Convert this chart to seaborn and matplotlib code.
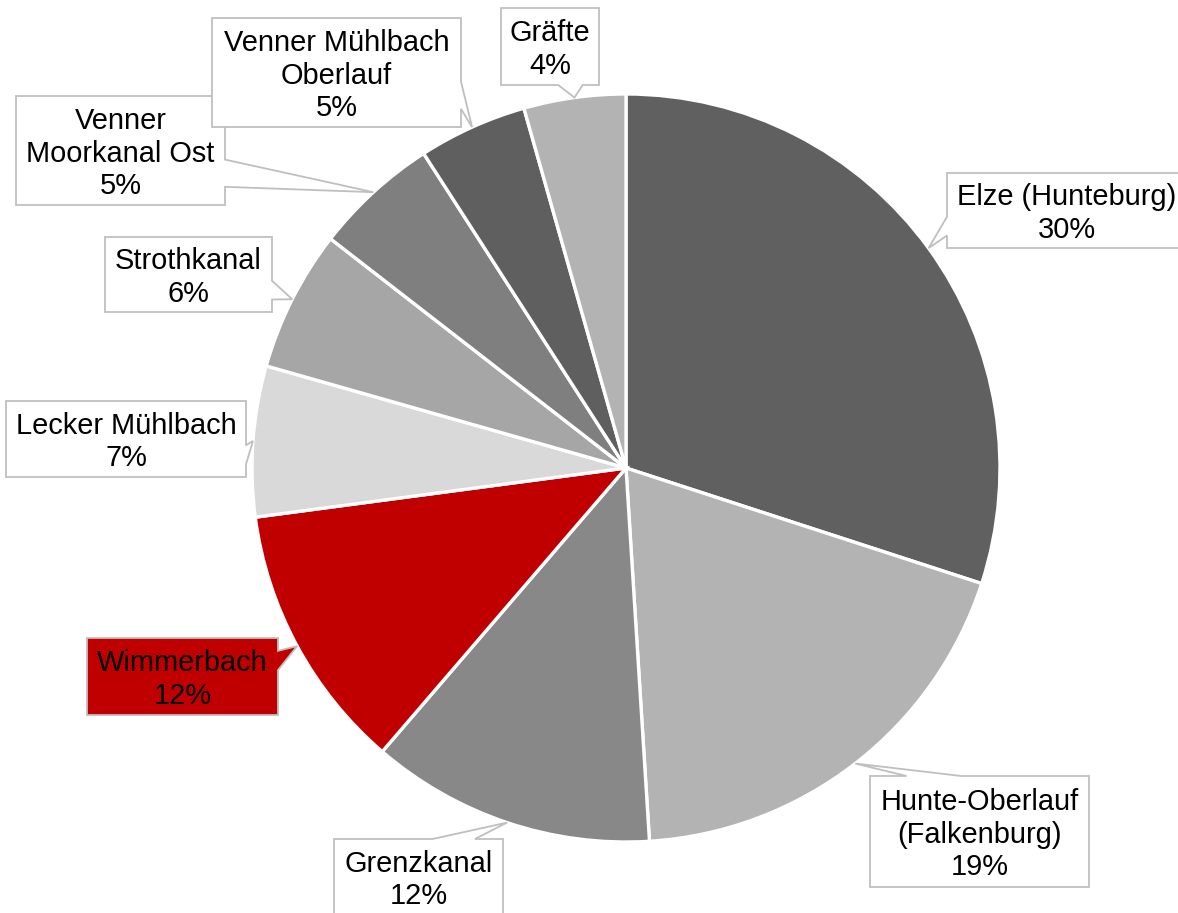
import matplotlib
matplotlib.use("Agg")
import matplotlib.pyplot as plt
from matplotlib.patches import Polygon
import numpy as np
import seaborn as sns

# ---- data ----
categories = ["Elze (Hunteburg)", "Hunte-Oberlauf\n(Falkenburg)", "Grenzkanal", "Wimmerbach",
              "Lecker Mühlbach", "Strothkanal", "Venner\nMoorkanal Ost",
              "Venner Mühlbach\nOberlauf", "Gräfte"]
values = [30.0, 19.0, 12.3, 11.6, 6.5, 6.1, 5.4, 4.7, 4.4]

# ---- styles ----
colors = ["#606060", "#b3b3b3", "#888888", "#c00000", "#d9d9d9",
          "#a6a6a6", "#7f7f7f", "#5f5f5f", "#b3b3b3"]
box_fill = ["white", "white", "white", "#c00000", "white", "white", "white", "white", "white"]

# callout box rectangles in pixel coords (x0, y0, x1, y1), y downward
boxes = [(947, 173, 1187, 248),
         (870, 776, 1089, 887),
         (334, 839, 503, 915),
         (87, 638, 278, 715),
         (6, 401, 246, 477),
         (105, 237, 272, 312),
         (16, 96, 225, 205),
         (212, 18, 461, 127),
         (501, 8, 599, 85)]

W, H = 1178, 913
CX, CY, R = 626, 468, 374

sns.set_theme(style="white")
plt.rcParams['font.family'] = ['Liberation Sans', 'DejaVu Sans']

fig = plt.figure(figsize=(W / 100, H / 100), dpi=100)
ax = fig.add_axes([0, 0, 1, 1])

wedges, _ = ax.pie(values, colors=colors, startangle=90, counterclock=False,
                   center=(CX, H - CY), radius=R,
                   wedgeprops=dict(edgecolor="white", linewidth=2.4))
ax.set_xlim(0, W)
ax.set_ylim(0, H)
ax.set_aspect("auto")
ax.axis("off")


def callout_poly(x0, y0, x1, y1, tx, ty):
    w, h = x1 - x0, y1 - y0
    hc, vc = (x0 + x1) / 2, (y0 + y1) / 2
    dx, dy = tx - hc, ty - vc
    inside = x0 <= tx <= x1 and y0 <= ty <= y1
    if inside:
        return [(x0, y0), (x1, y0), (x1, y1), (x0, y1)]
    dq = dx * h / w
    if abs(dy) > abs(dq):
        if dx > 0:
            xa, xb = x0 + w * 7 / 12, x0 + w * 10 / 12
        else:
            xa, xb = x0 + w * 2 / 12, x0 + w * 5 / 12
        if dy < 0:
            return [(x0, y0), (xa, y0), (tx, ty), (xb, y0), (x1, y0), (x1, y1), (x0, y1)]
        return [(x0, y0), (x1, y0), (x1, y1), (xb, y1), (tx, ty), (xa, y1), (x0, y1)]
    if dy > 0:
        ya, yb = y0 + h * 7 / 12, y0 + h * 10 / 12
    else:
        ya, yb = y0 + h * 2 / 12, y0 + h * 5 / 12
    if dx < 0:
        return [(x0, y0), (x1, y0), (x1, y1), (x0, y1), (x0, yb), (tx, ty), (x0, ya)]
    return [(x0, y0), (x1, y0), (x1, ya), (tx, ty), (x1, yb), (x1, y1), (x0, y1)]


total = sum(values)
for i, wdg in enumerate(wedges):
    mid = np.deg2rad((wdg.theta1 + wdg.theta2) / 2)
    tx = CX + R * np.cos(mid)
    ty = CY - R * np.sin(mid)
    x0, y0, x1, y1 = boxes[i]
    pts = callout_poly(x0, y0, x1, y1, tx, ty)
    pts = [(px, H - py) for px, py in pts]
    ax.add_patch(Polygon(pts, closed=True, facecolor=box_fill[i],
                         edgecolor="#bfbfbf", linewidth=1.3, zorder=5 + i * 0.1))
    pct = int(values[i] / total * 100 + 0.5)
    label = f"{categories[i]}\n{pct}%"
    ax.text((x0 + x1) / 2, H - (y0 + y1) / 2 - 3, label, ha="center", va="center",
            multialignment="center", fontsize=20.9, linespacing=1.22,
            color="black", zorder=5 + i * 0.1 + 0.05)

fig.savefig("out.png", dpi=100)
